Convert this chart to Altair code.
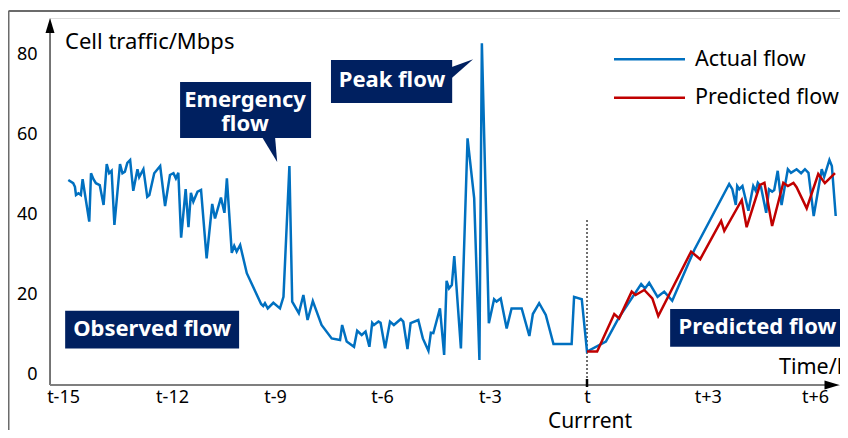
import altair as alt
import pandas as pd

# ---- data (x: hours relative to current time t, y: cell traffic in Mbps) ----
actual_h = [-14.85, -14.71, -14.66, -14.63, -14.56, -14.49, -14.44, -14.25, -14.20, -14.13,
            -14.06, -13.95, -13.84, -13.75, -13.68, -13.61, -13.53, -13.37, -13.30, -13.23,
            -13.16, -13.08, -12.99, -12.87, -12.82, -12.70, -12.59, -12.53, -12.39, -12.22,
            -12.08, -11.94, -11.84, -11.77, -11.70, -11.62, -11.49, -11.41, -11.34, -11.27,
            -11.15, -11.05, -10.89, -10.73, -10.65, -10.48, -10.38, -10.31, -10.17, -10.10,
            -10.03, -9.93, -9.74, -9.33, -9.27, -9.22, -9.14, -8.98, -8.79, -8.69,
            -8.52, -8.44, -8.25, -8.12, -8.00, -7.85, -7.60, -7.31, -7.07, -7.01,
            -6.88, -6.67, -6.58, -6.45, -6.34, -6.23, -6.15, -6.10, -5.97, -5.91,
            -5.78, -5.64, -5.53, -5.33, -5.26, -5.14, -5.05, -4.83, -4.70, -4.54,
            -4.47, -4.40, -4.21, -4.09, -4.02, -3.95, -3.87, -3.80, -3.61, -3.42,
            -3.23, -3.08, -3.01, -2.81, -2.66, -2.59, -2.47, -2.30, -2.16, -1.87,
            -1.65, -1.55, -1.37, -1.18, -0.96, -0.44, -0.37, -0.15, 0.00, 0.54,
            0.90, 1.55, 1.66, 1.78, 2.02, 2.21, 2.44, 3.07, 4.07, 4.16,
            4.26, 4.30, 4.36, 4.45, 4.62, 4.76, 4.83, 4.89, 4.98, 5.13,
            5.21, 5.30, 5.36, 5.46, 5.57, 5.75, 5.84, 6.00, 6.13, 6.24,
            6.34, 6.49, 6.72, 6.79, 6.94, 7.01, 7.12]
actual_v = [48.5, 47.7, 46.8, 44.75, 45.2, 44.75, 48.7, 38.1, 50.2, 48.7,
            47.7, 47.25, 42.25, 52.5, 50.2, 50.8, 37.25, 52.5, 50.2, 50.6,
            52.8, 53.5, 45.8, 51.2, 49.2, 51.2, 44.3, 44.75, 50.2, 52.0,
            42.0, 49.75, 50.2, 48.9, 50.3, 34.1, 46.2, 36.7, 45.3, 43.1,
            45.6, 46.0, 28.9, 42.5, 38.9, 44.1, 40.3, 48.9, 30.3, 32.0,
            30.6, 32.25, 25.2, 17.5, 17.0, 17.7, 16.4, 17.8, 16.4, 19.3,
            52.0, 18.1, 15.2, 19.75, 13.5, 18.25, 12.25, 8.9, 8.5, 12.25,
            8.1, 6.8, 10.8, 9.75, 10.6, 6.8, 12.8, 12.25, 13.1, 12.8,
            6.4, 13.1, 12.25, 13.75, 13.1, 6.25, 12.7, 13.5, 8.9, 5.8,
            10.3, 10.2, 16.4, 4.75, 23.3, 21.4, 22.25, 29.5, 6.4, 58.9,
            43.9, 3.5, 82.7, 12.7, 18.7, 18.1, 18.9, 11.4, 16.4, 16.4,
            9.5, 15.0, 17.7, 14.75, 7.5, 7.5, 19.3, 18.7, 5.6, 8.1,
            13.9, 22.5, 21.4, 22.8, 19.3, 20.6, 18.3, 31.0, 47.5, 46.2,
            42.25, 47.0, 46.2, 47.0, 40.8, 47.0, 45.8, 47.8, 46.8, 40.3,
            46.2, 45.6, 46.0, 50.8, 42.25, 51.2, 50.3, 51.2, 50.2, 51.2,
            50.3, 39.5, 51.2, 49.3, 53.5, 52.0, 39.5]

pred_h = [0.00, 0.29, 0.78, 0.92, 1.28, 1.39, 1.64, 1.87, 2.04, 2.98,
          3.24, 3.84, 3.93, 4.43, 4.57, 4.95, 5.08, 5.30, 5.62, 5.75,
          5.91, 6.00, 6.29, 6.62, 6.81, 7.10]
pred_v = [5.6, 5.6, 15.0, 13.9, 20.6, 19.75, 21.0, 18.9, 14.5, 30.6,
          28.7, 38.25, 35.8, 43.5, 36.7, 47.25, 47.8, 37.0, 47.8, 47.0,
          47.8, 46.7, 41.4, 50.0, 47.7, 50.2]

y_ticks = [0, 20, 40, 60, 80]
x_tick_pos = [-15, -11.88, -8.93, -5.87, -2.78, 0, 3.46, 6.53]
x_tick_labels = ["t-15", "t-12", "t-9", "t-6", "t-3", "t", "t+3", "t+6"]

series_names = ["Actual flow", "Predicted flow"]
series_colors = ["#0070C0", "#C00000"]

# annotation callouts (data coordinates)
boxes = pd.DataFrame({
    "x": [-11.65, -7.33, -14.94, 2.38],
    "x2": [-7.90, -3.86, -9.96, 7.39],
    "y": [73.0, 78.5, 15.8, 16.25],
    "y2": [59.0, 67.75, 6.4, 6.8],
})
box_texts = pd.DataFrame({
    "x": [-9.79, -9.79, -5.58, -12.45, 4.88],
    "y": [68.6, 62.4, 73.4, 11.2, 11.7],
    "t": ["Emergency", "flow", "Peak flow", "Observed flow", "Predicted flow"],
})

FONT = "Noto Sans"
NAVY = "#002060"
X_DOM = [-15.374, 7.243]
Y_DOM = [-2.75, 89]
W, H = 790, 367

xs = alt.Scale(domain=X_DOM, nice=False, zero=False)
ys = alt.Scale(domain=Y_DOM, nice=False, zero=False)

label_expr = "".join(
    f"abs(datum.value - ({p})) < 0.01 ? '{l}' : " for p, l in zip(x_tick_pos, x_tick_labels)
) + "''"

df_a = pd.DataFrame({"h": actual_h, "v": actual_v})
df_p = pd.DataFrame({"h": pred_h, "v": pred_v})
one = pd.DataFrame({"a": [0]})


def X(field):
    return alt.X(field, scale=xs, title=None)


def Y(field):
    return alt.Y(field, scale=ys, title=None)


actual_line = alt.Chart(df_a).mark_line(
    color=series_colors[0], strokeWidth=2.5, strokeJoin="miter"
).encode(
    x=alt.X("h:Q", scale=xs, title=None,
            axis=alt.Axis(values=x_tick_pos, labelExpr=label_expr, domain=False, ticks=False,
                          grid=False, labelFontSize=18, labelFont=FONT, labelColor="#000",
                          labelPadding=3, labelFlush=False, labelOverlap=False)),
    y=alt.Y("v:Q", scale=ys, title=None,
            axis=alt.Axis(values=y_ticks, domain=False, ticks=False, grid=False,
                          labelFontSize=18, labelFont=FONT, labelColor="#000",
                          labelPadding=13)),
)

pred_line = alt.Chart(df_p).mark_line(
    color=series_colors[1], strokeWidth=2.5, strokeJoin="miter"
).encode(x=X("h:Q"), y=Y("v:Q"))

# frame around the figure
frame_left = alt.Chart(one).mark_rule(color="#6b6b6b", strokeWidth=2).encode(
    x=alt.value(-41.5), y=alt.value(-7), y2=alt.value(420))
frame_top = alt.Chart(one).mark_rule(color="#6b6b6b", strokeWidth=2).encode(
    x=alt.value(-41.5), x2=alt.value(800), y=alt.value(-7))

# axis lines with arrows
y_axis_line = alt.Chart(one).mark_rule(color="#595959", strokeWidth=1.6).encode(
    x=alt.value(0), y=alt.value(10), y2=alt.value(H))
x_axis_line = alt.Chart(one).mark_rule(color="#7f7f7f", strokeWidth=2).encode(
    x=alt.value(0), x2=alt.value(780), y=alt.value(H))
y_arrow = alt.Chart(one).mark_point(
    shape="M0,-1L0.6,1L-0.6,1Z", filled=True, color="#000", size=225, opacity=1
).encode(x=alt.value(0), y=alt.value(7.5))
x_arrow = alt.Chart(one).mark_point(
    shape="M1,0L-1,0.6L-1,-0.6Z", filled=True, color="#000", size=225, opacity=1
).encode(x=alt.value(782), y=alt.value(H))

# current-time marker
now_line = alt.Chart(pd.DataFrame({"h": [0], "v": [38.5], "v2": [Y_DOM[0]]})).mark_rule(
    color="#404040", strokeWidth=1.5, strokeDash=[2, 2]
).encode(x=X("h:Q"), y=Y("v:Q"), y2="v2:Q")
now_tick = alt.Chart(pd.DataFrame({"h": [0]})).mark_rule(color="#000", strokeWidth=2.5).encode(
    x=X("h:Q"), y=alt.value(H - 6), y2=alt.value(H + 2))

# callout boxes and pointers
box_layer = alt.Chart(boxes).mark_rect(color=NAVY).encode(
    x=X("x:Q"), x2="x2:Q", y=Y("y:Q"), y2="y2:Q")
ptr_emergency = alt.Chart(pd.DataFrame({
    "v": [59.2, 53.0], "h1": [-9.30, -8.87], "h2": [-8.93, -8.87]})).mark_area(
    color=NAVY, orient="horizontal").encode(
    y=Y("v:Q"), x=X("h1:Q"), x2="h2:Q")
ptr_peak = alt.Chart(pd.DataFrame({
    "h": [-3.87, -3.26], "v1": [76.75, 78.7], "v2": [74.0, 78.7]})).mark_area(
    color=NAVY, orient="vertical").encode(
    x=X("h:Q"), y=Y("v1:Q"), y2="v2:Q")
box_text_layer = alt.Chart(box_texts).mark_text(
    color="white", font=FONT, fontSize=22, fontWeight="bold", align="center", baseline="middle"
).encode(x=X("x:Q"), y=Y("y:Q"), text="t:N")


# plain text helper (chart furniture, pixel positions in the plot frame)
def label(txt, x, y, align="left", size=20, color="#000"):
    return alt.Chart(one).mark_text(
        text=txt, font=FONT, fontSize=size, align=align, baseline="middle", color=color
    ).encode(x=alt.value(x), y=alt.value(y))


# legend (drawn by hand)
legend_layers = []
for i, (name, col) in enumerate(zip(series_names, series_colors)):
    yy = 41.3 + i * 38.4
    legend_layers.append(alt.Chart(one).mark_rule(strokeWidth=2.5, color=col).encode(
        x=alt.value(564), x2=alt.value(635), y=alt.value(yy)))
    legend_layers.append(label(name, 645, yy + 0.5, size=21.5))

y_title = label("Cell traffic/Mbps", 15, 23.5, size=22)
x_title = label("Time/h", 729, 350, size=21.5)
cur_label = label("Currrent", 540, 404, align="center", size=21)

chart = alt.layer(
    frame_left, frame_top,
    box_layer, ptr_emergency, ptr_peak, box_text_layer,
    now_line,
    actual_line, pred_line,
    y_axis_line, x_axis_line, y_arrow, x_arrow, now_tick,
    *legend_layers,
    y_title, x_title, cur_label,
).properties(
    width=W, height=H,
    autosize=alt.AutoSizeParams(type="none"),
    padding={"left": 42, "top": 10, "right": 0, "bottom": 45},
).configure_view(stroke=None).configure_axis(grid=False).configure(background="white")

chart.save("out.html", embed_options={"renderer": "svg", "actions": False})
